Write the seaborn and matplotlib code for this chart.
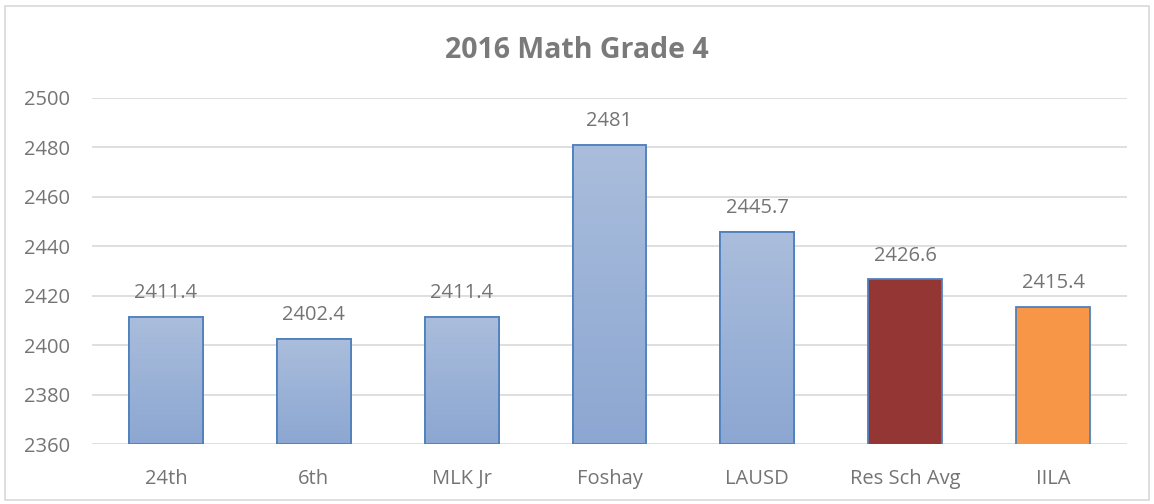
import numpy as np
import pandas as pd
import seaborn as sb
import matplotlib.pyplot as plt
from matplotlib.patches import Rectangle

# Data
schools = ["24th", "6th", "MLK Jr", "Foshay", "LAUSD", "Res Sch Avg", "IILA"]
scores = [2411.4, 2402.4, 2411.4, 2481, 2445.7, 2426.6, 2415.4]
bar_colors = ["#9DB3D8", "#9DB3D8", "#9DB3D8", "#9DB3D8", "#9DB3D8", "#943634", "#F79646"]
gradient_bar = [True, True, True, True, True, False, False]

df = pd.DataFrame({"school": schools, "score": scores})

sb.set_theme(style="white")
plt.rcParams['font.family'] = ['Open Sans', 'DejaVu Sans']
text_gray = "#747474"
title_gray = "#7A7A7A"
grid_gray = "#D9D9D9"

fig = plt.figure(figsize=(11.54, 5.04), dpi=100)
ax = fig.add_axes([0.0797, 0.119, 0.8969, 0.6866])

sb.barplot(data=df, x="school", y="score", hue="school", palette=bar_colors,
           legend=False, width=0.5, edgecolor="#4F81BD", linewidth=1.3,
           saturation=1, ax=ax, zorder=3)

ymin, ymax = 2360, 2500

# gradient fill on the blue bars (only the visible part)
grad = np.linspace(0, 1, 256).reshape(-1, 1)
top_c = np.array([0xAA, 0xBD, 0xDC]) / 255
bot_c = np.array([0x8C, 0xA7, 0xD2]) / 255
for patch, use_grad in zip(ax.patches, gradient_bar):
    if not use_grad:
        continue
    x0, w = patch.get_x(), patch.get_width()
    top = patch.get_y() + patch.get_height()
    img = top_c + grad[..., None] * (bot_c - top_c)
    ax.imshow(img, extent=[x0, x0 + w, ymin, top], aspect="auto",
              zorder=3.5, origin="upper")
    ax.add_patch(Rectangle((x0, ymin), w, top - ymin, fill=False,
                           edgecolor="#4F81BD", linewidth=1.3, zorder=4))

ax.set_xlim(-0.5, len(schools) - 0.5)
ax.set_ylim(ymin, ymax)
ax.set_yticks(np.arange(ymin, ymax + 1, 20))

# value labels
for i, v in enumerate(scores):
    ax.annotate(f"{v:g}", (i, v), xytext=(0, 10), textcoords="offset points",
                ha="center", va="bottom", fontsize=14.5, color=text_gray)

ax.grid(axis="y", color=grid_gray, linewidth=1.2, zorder=0)
ax.set_axisbelow(True)
for s in ax.spines.values():
    s.set_visible(False)
ax.tick_params(axis="both", length=0, labelsize=14.5, labelcolor=text_gray)
ax.tick_params(axis="y", pad=16)
ax.tick_params(axis="x", pad=18)
ax.set_xlabel("")
ax.set_ylabel("")

fig.text(0.5, 0.9, "2016 Math Grade 4", ha="center", va="center",
         fontsize=20.5, fontweight="bold", color=title_gray)

# chart border
fig.patches.append(Rectangle((0.004, 0.008), 0.992, 0.98, transform=fig.transFigure,
                             fill=False, edgecolor=grid_gray, linewidth=1.2))

plt.savefig("out.png", dpi=100)
